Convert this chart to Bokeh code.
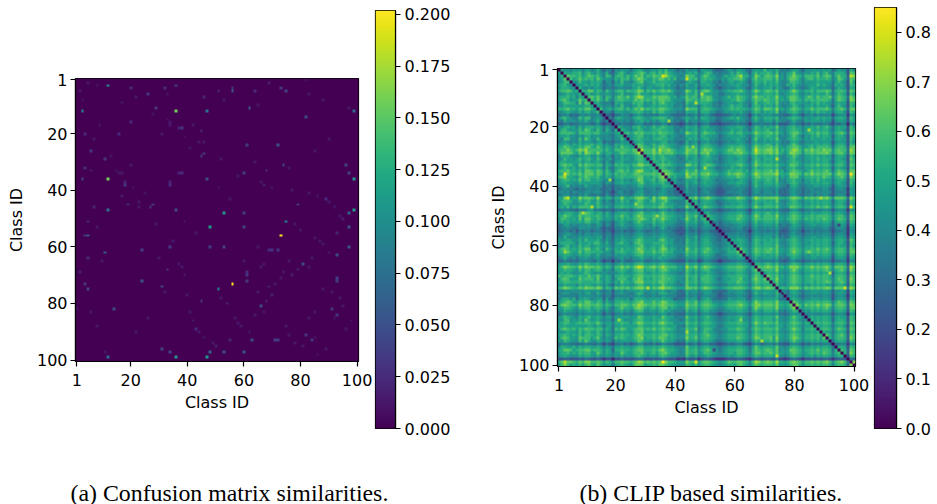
import numpy as np
from bokeh.embed import file_html
from bokeh.models import FixedTicker, Label, LinearColorMapper
from bokeh.plotting import figure
from bokeh.resources import INLINE

N_CLASSES = 100
TICKS = [1, 20, 40, 60, 80, 100]
LABEL_X = "Class ID"
LABEL_Y = "Class ID"
CAPTION_A = "(a) Confusion matrix similarities."
CAPTION_B = "(b) CLIP based similarities."
MAX_A = 0.2019
MAX_B = 0.8505
TICKS_CB_A = [0.0, 0.025, 0.05, 0.075, 0.1, 0.125, 0.15, 0.175, 0.2]
TICK_LABELS_CB_A = ["0.000", "0.025", "0.050", "0.075", "0.100", "0.125", "0.150", "0.175", "0.200"]
TICKS_CB_B = [0.0, 0.1, 0.2, 0.3, 0.4, 0.5, 0.6, 0.7, 0.8]
TICK_LABELS_CB_B = ["0.0", "0.1", "0.2", "0.3", "0.4", "0.5", "0.6", "0.7", "0.8"]

# (a) class pairs with visible confusion: (row, col, value)
PEAKS_A = [
    (3, 12, .09), (12, 36, .16), (3, 36, .04), (12, 47, .075), (36, 47, .045), (6, 26, .03), (11, 29, .03),
    (16, 20, .025), (11, 62, .055), (24, 61, .035), (24, 72, .05), (5, 56, .05), (5, 75, .04), (4, 56, .03),
    (4, 73, .03), (14, 82, .045), (34, 60, .035), (34, 97, .04), (36, 99, .105), (12, 99, .07), (47, 99, .11),
    (48, 53, .11), (48, 60, .035), (48, 97, .06), (53, 60, .04), (53, 97, .05), (60, 97, .05), (51, 75, .085),
    (56, 73, .2), (31, 74, .04), (31, 96, .04), (33, 68, .03), (18, 38, .03), (28, 45, .03), (27, 46, .03),
    (45, 79, .03), (43, 89, .025), (66, 81, .045), (63, 93, .045), (71, 93, .035), (55, 93, .02), (72, 93, .035),
    (61, 69, .025), (61, 72, .03), (61, 70, .03), (82, 91, .03), (84, 93, .03), (34, 38, .025), (18, 37, .02),
    (34, 37, .02), (4, 20, .025), (7, 46, .02), (19, 45, .02), (4, 32, .025), (20, 31, .012), (2, 5, .012),
    (3, 8, .01), (7, 22, .012), (9, 17, .012), (13, 28, .01), (15, 33, .012), (17, 42, .012), (21, 39, .012),
    (23, 44, .012), (25, 41, .01), (29, 52, .012), (30, 64, .012), (35, 58, .012), (37, 66, .012), (39, 70, .012),
    (40, 77, .012), (41, 83, .012), (42, 86, .012), (44, 90, .012), (46, 92, .012), (49, 94, .012), (50, 95, .015),
    (52, 78, .012), (54, 80, .015), (57, 85, .012), (58, 87, .012), (59, 88, .012), (62, 90, .012), (64, 84, .012),
    (65, 76, .012), (67, 83, .012), (68, 79, .015), (69, 74, .015), (70, 77, .015), (75, 88, .012), (76, 91, .012),
    (78, 94, .012), (81, 95, .012), (83, 85, .012), (85, 92, .012), (86, 98, .012), (89, 96, .012), (6, 33, .012),
    (8, 53, .012), (10, 65, .012), (2, 69, .015), (1, 82, .008), (6, 83, .012), (8, 88, .012), (11, 97, .012),
    (22, 90, .012), (26, 85, .012), (32, 76, .012), (38, 67, .012), (43, 55, .012), (39, 51, .012), (5, 64, .025),
    (5, 51, .02), (17, 34, .012), (16, 34, .012), (23, 46, .012), (60, 65, .012), (66, 67, .012), (71, 73, .012),
]

# (b) upper triangle, one hex digit per class pair, in groups of ten classes.
# Each row starts at the group holding its diagonal. Digit d stands for 0.48 + 0.05 * (d - 8).
ROWS_B = """
7877687868 8679646637 6877578986 678798a776 4658677488 7754456876 887547887a 7879656578 8647778778 7846877397
8998899a79 a879769547 9a86789ab9 79a8a9b987 6768989679 a966566797 a98748a899 a97a67689b 8768798a79 a7699983ba
aa8baa9a89 ba9a86a959 aa8a89bab8 a9baabda98 767caa869b a886679899 bb9968ca8a ba9c7869ac a97aaa9b8a ba69b994dc
9ab7a89b9a 9a8b978769 8a9a79acb9 88a9bb9a8a 677aa9a69a 998768799a ab9759b99a aa8b7869bb a869aa8a99 a968ba84ba
7997977a88 7989847748 7a77679ab7 88a8999886 6558987599 8866476897 898648a98a 898a7667aa 9868788988 8858a873b8
8798707889 8989756758 8977798997 78899a8977 5769779588 9875667788 987757a879 898976698a 8767888a89 87598973a9
7686667976 8688746656 7766688a86 8877897876 4658778478 7865356767 8875479778 8969765589 7656798878 7747987398
9ab8a98a99 bb8a96a869 aa8a99acb8 a9b9abab97 667ca8a6ab b97767899a ab9769ca8a ba9b7878ac a8799a8aaa ba59aa94ba
7898989788 9789778767 8a77789b88 8798899886 566a88a699 8877557788 988768a889 998a76789a 9768798988 a858a983a8
9ab8a99ba7 ab9b96a969 ba9b89bdc9 99babbba89 678b9aa6ba ba77678a89 ba986acaa9 a99c8879bb a879ba8b9a ab69ba95ca
8a9b97a769 aa9989bab9 a9a9bbaa87 776ba9a8aa ba87678899 ba9769ba9b a99b8978bb a97a9a9aaa a959ba94cb
7989766649 89777a9aa7 87a8ab9887 665a889899 9866467887 897658b889 a98b76769a 8878798a89 87589883a9
7878867758 7a77688a97 7898999886 6759788589 88665778a8 997748a979 897a76678a 9768897988 9748a873a8
9b9aa78979 aa8a89bac9 a9a9bba987 776caaa69a a9876789a9 a99879ba8b ba9c8978ab a9799b9aaa b969ab94bb
7898857648 8877899a97 87a8aa8877 5659889599 9775568788 897658a979 898b67689a 9768798a89 88589973a9
5567634425 5766467875 6565777654 4447567467 7543344567 6765268677 7767554468 7536675766 6626777187
8889866648 9877689a98 7899aa9786 5679879599 8775567898 a87648a879 998a67689a 9868788989 88589983a8
6777647846 7767568897 8686898775 6459677578 8664466667 8775479768 8869766579 7658788878 7737887398
4556535535 4655456774 5465576454 3236456356 6433234455 6554156565 5647343467 5535465556 6425466075
8879768758 9877699a88 78a89a9886 6569889589 9776567888 998657a979 898b77689a 8868898a89 a8589883a8
8987688a97 7899a99886 5769789689 8876567798 897748a989 a87a77689a 9868798989 97589873a9
a89a89bab9 99a9baa997 677ca9a69b a9976789a8 aa8879ca9a ab9b8868ab b9789a9b9a a869ab94ba
8917789aa7 87989a9787 6569889599 8877467888 898657a989 a98a67679b 9758798a89 98489973a9
8971789a98 8799a99886 6668989689 9776567788 987748b879 898b76689a 9868798889 88589883a8
7767168997 7787899676 5459678477 8665456767 8875479778 7879756589 8657778878 8737887397
8988618ba8 78a89a9887 6569789589 9876467888 898758a989 a97a76679b 9768898989 98489983a9
9a98a91bb9 98a9bba987 678b9aa69a a9876789a9 aa9769ca9a ab9b8879ab b9789a8aaa a959aa94bb
bbaa9ab1da aac9dbbca9 788cbab7ac bb98789bba cba86aebab ccac8a89bd ca8bacabac bb7abaa5db
ab9a9bcb1a aacacabbb9 889caab7bb c998689aab bca97adbab bcac9979cc ba7aababbb ca7abb95cb
7998789aa1 88a89a8887 566a889589 a876567888 998758a889 898a76689b 9768898989 88489983a8
18a89a9877 6569789689 9877467887 898748a979 998a76679a 8768898a89 98589873b9
71998a8987 6668989689 8866567888 998658b989 898977689a 9868798989 97489983a9
9a19abaa98 777cb9a69a ba97678899 ab9869ca9a aa9b8878bb a8799a9b9a a969aa84ba
87899a9787 5669889589 9875567798 898758a889 998a76689a 8768898989 98489873a9
9aa91bba97 678b99b79a a987678a99 aa8969ba9a ab9c8968ab a9789b9a9a b959ba94bb
bcbad1cba9 888dabb8bb ca99789bab cba87adbab bbbd9989cc ba8bacabab bb7acba5db
a9b9ba1a89 777cb9a79a a887678999 ba9869bb9a aa9b7978bb b8799a9a9b a969ab94ca
78a89a9178 6569889589 9875667787 898758a989 a98b67689a 8858898a89 88589983a9
7898899718 6669789689 8876566888 998748a879 998a77679a 9768798989 98589873a8
7687899761 5459677578 8765456667 877647a878 8879766489 8656778878 8737887398
1448667367 6654345566 6765368767 7668554578 7646676667 7536776187
4158667467 7553335666 7755368757 7758454578 6646576767 7636666287
5416667466 7654345556 6765367667 6768544578 7546675767 7536776187
8881aac8ab ca98789aaa cba87adbab bbbc9989bc ba8bababbb ca7bbba5ca
6669189589 9875567888 998748a989 898b76679a 9768898989 98489983a9
6659719689 8876467788 898758a879 998a77689a 9868798989 98589973a8
777baa179b a987679999 aa9869ca9a aa9b8778bb a9799a9b9a b969aa94ca
4448667167 6654345566 7765268767 6768554478 7546676667 7636776187
6669879618 9766567888 998648a989 a98a76679a 9868798889 98589873a9
787ba9a791 a987678999 ab9869ca8a aa9c8878ab a9799a9aaa a969aa84ba
1987678999 ba9869ba9a aa9b8879ab a97a9a9a9b a969ba94ba
9166467788 998758a889 998a77679a 9768898989 98489983a9
8716456667 7876479778 8879566579 8757788778 8747287298
6651345566 7755368667 6768554578 7646676667 7536776187
6543134455 6654157656 5657433467 6525565656 6525566176
7554315666 7665368767 7768454578 6646676767 7636776187
8765351777 8775479878 8869565589 8757788778 8747887298
8876567188 998748a989 898a77689a 9768898989 98589983b9
9876467718 898758a979 998a76679a 9868798989 98489973a9
9775567881 998758a989 998b77679a 9868898989 98589883a8
1b9869ba9a ab9b8878ab a9799a9b9a b969aa94ba
a1a869ba9a ba9b8878ac a97a9a9a9a a969aa94bb
991758a989 898a77689a 9868798989 98489983a9
8876479778 8879565589 8757788778 8737887298
6654357656 6657443467 5535565656 6525566176
8987589989 a98a77679a 9868898989 98589983a9
cba97b1bab cbac9a89cc ca8aacabab ca7bbba5db
aa9869b19a aa9c8878ac a8799a9a9a b969ab94ca
9887589a18 998a77679a 9768898989 98489983a9
ab9869ca91 ba9b8978ab a9799b9a9a a959aa94ba
1a9c8878ab a9799a9a9a a969ba94ca
a19b8878ab a9799a8a9a ba69ab94ba
891a77689a 9868798989 88589983a9
cbb19a99cc ca8bababab cb7bbba6db
8879166589 8657788878 8747787298
7879516589 8757788778 8747887298
6768551578 7546676767 7636776187
8869566189 8757788878 8737887298
ba9b88781b a8799a9a9a a969ba94ba
cbac9a89b1 ca8babacab cb7abba5cb
19799a9a9a b969aa94bb
9168798989 98589983a9
6716676667 7636776187
9868798989 98589883a9
9868898989 98489983a9
a9799a9a9a a969aa94ba
9768898989 98589973a9
a9799a9a9a a969ba94ba
9768898989 88589983a9
a9799a9a91 b969ab94ba
1969aa94ca
91589983a9
6515566176
98519983a9
a96a1a94ba
b96ab194ca
98589913a9
4313443154
ca7bbca51c
b969ab94c1
"""

# (b) cells that stand out from their neighbours: (row, col, value)
PEAKS_B = [
    (9, 49, .80), (12, 47, .78), (3, 36, .80), (10, 29, .72), (47, 12, .76), (49, 9, .74), (44, 4, .78),
    (46, 27, .70), (29, 10, .70), (38, 18, .66), (18, 38, .72), (31, 74, .76), (21, 85, .72), (36, 99, .84),
    (47, 99, .80), (44, 89, .74), (34, 50, .72), (3, 99, .76), (74, 97, .78), (69, 92, .74), (62, 85, .68),
    (62, 3, .72),
]


def matrix_a():
    m = np.zeros((N_CLASSES, N_CLASSES))
    for r, c, v in PEAKS_A:
        m[r - 1, c - 1] = m[c - 1, r - 1] = v
    return m


def matrix_b():
    m = np.zeros((N_CLASSES, N_CLASSES))
    lines = ROWS_B.strip().splitlines()
    for i, ln in enumerate(lines[:N_CLASSES]):
        digits = ln.replace(" ", "")
        start = (i // 10) * 10
        for j, ch in enumerate(digits):
            col = start + j
            if i <= col < N_CLASSES:
                v = 0.48 + 0.05 * (int(ch, 16) - 8)
                m[i, col] = m[col, i] = max(v, 0.05)
    for r, c, v in PEAKS_B:
        m[r - 1, c - 1] = m[c - 1, r - 1] = v
    np.fill_diagonal(m, 0.0)
    return m


FONT = "DejaVu Sans"
SIZE = "16px"


def place(left, top):
    return {"position": "absolute", "left": f"{left}px", "top": f"{top}px"}


def style_axis(ax):
    ax.major_label_text_font = FONT
    ax.major_label_text_font_size = SIZE
    ax.major_label_text_color = "#000000"
    ax.axis_label_text_font = FONT
    ax.axis_label_text_font_size = SIZE
    ax.axis_label_text_font_style = "normal"
    ax.axis_label_text_color = "#000000"
    ax.axis_line_color = "#000000"
    ax.major_tick_line_color = "#000000"
    ax.major_tick_line_width = 1.2
    ax.axis_line_width = 1.2
    ax.major_tick_in = 0
    ax.major_tick_out = 5
    ax.minor_tick_line_color = None


def heatmap(m, vmax, page_x, left, top, size, right, bottom):
    p = figure(
        width=left + size + right,
        height=top + size + bottom,
        frame_width=size,
        frame_height=size,
        x_range=(0.5, N_CLASSES + 0.5),
        y_range=(N_CLASSES + 0.5, 0.5),
        toolbar_location=None,
        output_backend="svg",
        min_border_left=left,
        min_border_right=right,
        min_border_top=top,
        min_border_bottom=bottom,
        styles=place(page_x, 0),
    )
    mapper = LinearColorMapper(palette="Viridis256", low=0, high=vmax)
    p.image(image=[m], x=0.5, y=0.5, dw=N_CLASSES, dh=N_CLASSES, color_mapper=mapper)
    p.grid.visible = False
    p.outline_line_color = "#000000"
    p.outline_line_width = 1.2
    p.xaxis.axis_label = LABEL_X
    p.yaxis.axis_label = LABEL_Y
    for ax in (p.xaxis[0], p.yaxis[0]):
        style_axis(ax)
        ax.ticker = FixedTicker(ticks=TICKS)
    p.xaxis[0].major_label_standoff = 7
    p.xaxis[0].axis_label_standoff = 4
    p.yaxis[0].major_label_standoff = 3
    p.yaxis[0].axis_label_standoff = 8
    return p


def colorbar(vmax, ticks, labels, page_x, left, top, width, frame_h, right, bottom):
    p = figure(
        width=left + width + right,
        height=top + frame_h + bottom,
        frame_width=width,
        frame_height=frame_h,
        x_range=(0, 1),
        y_range=(0, vmax),
        y_axis_location="right",
        toolbar_location=None,
        output_backend="svg",
        min_border_left=left,
        min_border_right=right,
        min_border_top=top,
        min_border_bottom=bottom,
        border_fill_color=None,
        styles=place(page_x, 0),
    )
    mapper = LinearColorMapper(palette="Viridis256", low=0, high=vmax)
    ramp = np.linspace(0, vmax, 256).reshape(256, 1)
    p.image(image=[ramp], x=0, y=0, dw=1, dh=vmax, color_mapper=mapper)
    p.grid.visible = False
    p.xaxis.visible = False
    p.outline_line_color = "#000000"
    p.outline_line_width = 1.2
    ax = p.yaxis[0]
    style_axis(ax)
    ax.ticker = FixedTicker(ticks=ticks)
    ax.major_label_overrides = dict(zip(ticks, labels))
    ax.major_label_standoff = 4
    return p


p1 = heatmap(matrix_a(), MAX_A, 0, 75, 78, 283, 18, 84)
cb1 = colorbar(MAX_A, TICKS_CB_A, TICK_LABELS_CB_A, 368, 7, 10, 20, 418, 62, 17)
p2 = heatmap(matrix_b(), MAX_B, 485, 72, 68, 298, 18, 79)
cb2 = colorbar(MAX_B, TICKS_CB_B, TICK_LABELS_CB_B, 865, 9, 7, 22, 421, 38, 17)

cap = figure(
    width=934, height=59, x_range=(0, 934), y_range=(59, 0),
    toolbar_location=None, output_backend="svg",
    min_border=0, min_border_left=0, min_border_right=0, min_border_top=0, min_border_bottom=0,
    styles=place(0, 445),
)
cap.axis.visible = False
cap.grid.visible = False
cap.outline_line_color = None
for text, x in ((CAPTION_A, 70), (CAPTION_B, 579)):
    cap.add_layout(Label(x=x, y=47, text=text, text_font="Liberation Serif",
                         text_font_size="23.85px", text_color="#000000", text_baseline="alphabetic"))

open("out.html", "w").write(file_html([p1, cb1, p2, cb2, cap], INLINE))
